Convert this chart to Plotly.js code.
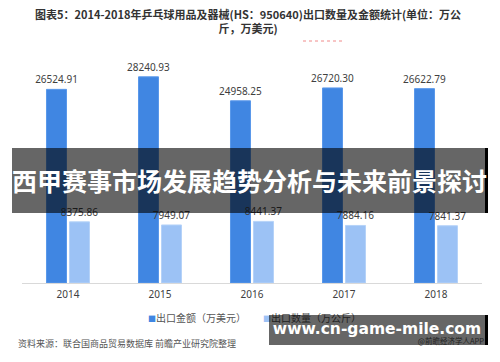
<!DOCTYPE html>
<html>
<head>
<meta charset="utf-8">
<script src="https://cdn.plot.ly/plotly-3.0.1.min.js"></script>
<style>
  html, body { margin: 0; padding: 0; background: #fff; }
  #wrap { position: relative; width: 500px; height: 362px; overflow: hidden; }
  #chart { width: 500px; height: 362px; }
  .banner { position: absolute; left: 12px; top: 148px; width: 473px; height: 65px;
    background: rgba(0,0,0,0.6); border-right: 3px solid #000; color: #fff;
    font-family: "Noto Sans CJK SC", sans-serif; font-weight: bold; font-size: 25px;
    line-height: 65px; text-align: center; white-space: nowrap; }
  .box { position: absolute; left: 269px; top: 315px; width: 216px; height: 30px;
    background: rgba(0,0,0,0.6); border-right: 3px solid #000; }
  .url { position: absolute; left: 0; right: 0; top: 3px; text-align: center; color: #fff;
    font-family: "DejaVu Sans", sans-serif; font-weight: bold; font-size: 15.5px; line-height: 22px; white-space: nowrap; }
  .app { position: absolute; right: 1px; bottom: 0px; color: #222;
    font-family: "Noto Sans CJK SC", sans-serif; font-size: 7.5px; line-height: 8px; white-space: nowrap; }
</style>
</head>
<body>
<div id="wrap">
  <div id="chart"></div>
  <div class="banner">西甲赛事市场发展趋势分析与未来前景探讨</div>
  <div class="box"><div class="url">www.cn-game-mile.com</div><div class="app">@前瞻经济学人APP</div></div>
</div>
<script>
const years = ['2014', '2015', '2016', '2017', '2018'];
const exportValue = [26524.91, 28240.93, 24958.25, 26720.30, 26622.79];
const exportQuantity = [8375.86, 7949.07, 8441.37, 7884.16, 7841.37];
const seriesNames = ['出口金额（万美元）', '出口数量（万公斤）'];
const seriesColors = ['#4086e2', '#9cc2f5'];
const titleText = '<b>图表5：2014-2018年乒乓球用品及器械(HS：950640)出口数量及金额统计(单位：万公<br>斤，万美元)</b>';
const sourceText = '资料来源：联合国商品贸易数据库 前瞻产业研究院整理';

const labelFont = { family: 'Noto Sans, sans-serif', size: 10, color: '#404040' };
const px = v => (v - 22) / 460;     // helper: page x -> paper
const py = v => (283 - v) / 219;    // helper: page y -> paper

const traces = [
  {
    type: 'bar', name: seriesNames[0], x: years, y: exportValue,
    text: exportValue.map(v => v.toFixed(2)), textposition: 'outside', cliponaxis: false, constraintext: 'none',
    textfont: labelFont, marker: { color: seriesColors[0], line: { color: '#5a98ea', width: 1 } },
    hoverinfo: 'none', showlegend: false
  },
  {
    type: 'bar', name: seriesNames[1], x: years, y: exportQuantity,
    text: exportQuantity.map(v => v.toFixed(2)), textposition: 'outside', cliponaxis: false, constraintext: 'none',
    textfont: labelFont, marker: { color: seriesColors[1], line: { color: '#b5d2f8', width: 1 } },
    hoverinfo: 'none', showlegend: false
  }
];

const cjk = 'Noto Sans CJK SC, sans-serif';
const layout = {
  width: 500, height: 362,
  margin: { l: 22, r: 18, t: 64, b: 79 },
  paper_bgcolor: '#ffffff', plot_bgcolor: '#ffffff',
  barmode: 'group', bargap: 0.5, bargroupgap: 0.13,
  xaxis: {
    type: 'category', showgrid: false, showline: true, linecolor: '#d9d9d9', linewidth: 1,
    ticks: '', tickfont: { family: 'Noto Sans, sans-serif', size: 10, color: '#404040' }, ticklabelstandoff: 2
  },
  yaxis: { range: [0, 30000], visible: false, showgrid: false, zeroline: false },
  showlegend: false,
  annotations: [
    { text: titleText, xref: 'paper', yref: 'paper', x: px(248), y: py(20.5), xanchor: 'center', yanchor: 'middle',
      align: 'center', showarrow: false, font: { family: cjk, size: 11, color: '#333333' } },
    { text: '<span style="color:' + seriesColors[0] + ';font-size:8px">■</span>' + seriesNames[0],
      xref: 'paper', yref: 'paper', x: px(146), y: py(317), xanchor: 'left', yanchor: 'middle',
      showarrow: false, font: { family: cjk, size: 10, color: '#555555' } },
    { text: '<span style="color:' + seriesColors[1] + ';font-size:8px">■</span>' + seriesNames[1],
      xref: 'paper', yref: 'paper', x: px(261), y: py(317), xanchor: 'left', yanchor: 'middle',
      showarrow: false, font: { family: cjk, size: 10, color: '#555555' } },
    { text: sourceText, xref: 'paper', yref: 'paper', x: px(16), y: py(343), xanchor: 'left', yanchor: 'middle',
      showarrow: false, font: { family: cjk, size: 9, color: '#555555' } }
  ],
  shapes: [
    { type: 'line', xref: 'paper', yref: 'paper', x0: px(303), x1: px(345),
      y0: py(41), y1: py(41), line: { color: '#f08a8a', width: 1, dash: 'dot' } }
  ]
};

Plotly.newPlot('chart', traces, layout, { displayModeBar: false, staticPlot: true });
</script>
</body>
</html>
